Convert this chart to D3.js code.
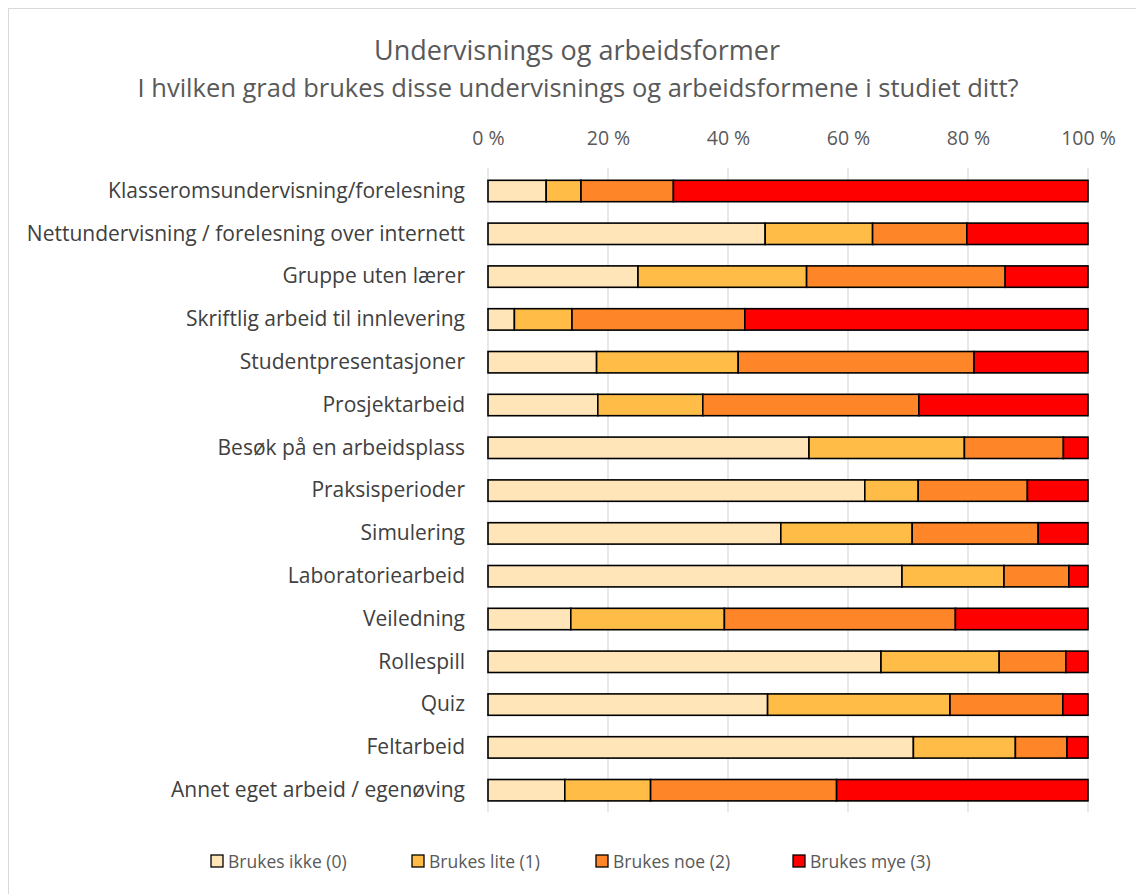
<!DOCTYPE html>
<html>
<head>
<meta charset="utf-8">
<script src="https://cdnjs.cloudflare.com/ajax/libs/d3/7.8.5/d3.min.js"></script>
<style>
  body { margin: 0; background: #fff; }
  text { font-family: "Open Sans", "Liberation Sans", sans-serif; }
</style>
</head>
<body>
<script>
var categories = ["Klasseromsundervisning/forelesning", "Nettundervisning / forelesning over internett",
  "Gruppe uten lærer", "Skriftlig arbeid til innlevering", "Studentpresentasjoner", "Prosjektarbeid",
  "Besøk på en arbeidsplass", "Praksisperioder ", "Simulering", "Laboratoriearbeid", "Veiledning",
  "Rollespill", "Quiz", "Feltarbeid", "Annet eget arbeid / egenøving"];

var seriesNames = ["Brukes ikke (0)", "Brukes lite (1)", "Brukes noe (2)", "Brukes mye (3)"];

// percent per category, one array per series
var brukesIkke = [9.7, 46.2, 25.0, 4.4, 18.1, 18.3, 53.5, 62.8, 48.8, 69.0, 13.8, 65.5, 46.6, 70.9, 12.8];
var brukesLite = [5.8, 17.9, 28.1, 9.6, 23.6, 17.5, 25.9, 8.9, 21.9, 17.0, 25.6, 19.7, 30.4, 17.0, 14.3];
var brukesNoe  = [15.4, 15.7, 33.1, 28.8, 39.3, 36.0, 16.5, 18.2, 21.0, 10.8, 38.5, 11.1, 18.8, 8.6, 31.0];
var brukesMye  = [69.1, 20.2, 13.8, 57.2, 19.0, 28.2, 4.1, 10.1, 8.3, 3.2, 22.1, 3.7, 4.2, 3.5, 41.9];

var tickValues = [0, 0.2, 0.4, 0.6, 0.8, 1.0];
var colors = ["#FFE5B8", "#FFBC47", "#FF8628", "#FF0000"];

var width = 1136, height = 894;
var svg = d3.select("body").append("svg").attr("width", width).attr("height", height);

// chart frame
svg.append("rect").attr("x", 8.5).attr("y", 8.5).attr("width", 1140).attr("height", 900)
  .attr("fill", "none").attr("stroke", "#d9d9d9");

svg.append("text").attr("x", 577).attr("y", 60).attr("text-anchor", "middle")
  .attr("font-size", 27).attr("fill", "#595959").text("Undervisnings og arbeidsformer");
svg.append("text").attr("x", 578).attr("y", 97).attr("text-anchor", "middle")
  .attr("font-size", 25.5).attr("fill", "#595959")
  .text("I hvilken grad brukes disse undervisnings og arbeidsformene i studiet ditt?");

// table for stacking
var table = categories.map(function(c, i) {
  var total = brukesIkke[i] + brukesLite[i] + brukesNoe[i] + brukesMye[i];
  return {cat: c, s0: brukesIkke[i] / total, s1: brukesLite[i] / total, s2: brukesNoe[i] / total, s3: brukesMye[i] / total};
});
var stack = d3.stack().keys(["s0", "s1", "s2", "s3"]);
var layers = stack(table);

var x = d3.scaleLinear().domain([0, 1]).range([488, 1088]);
var y = d3.scaleBand().domain(categories).range([169.6, 811.6]).paddingInner(0.5).paddingOuter(0.25);

// gridlines
svg.append("g").selectAll("line").data(tickValues).enter().append("line")
  .attr("x1", function(d) { return x(d); }).attr("x2", function(d) { return x(d); })
  .attr("y1", 168).attr("y2", 812)
  .attr("stroke", "#d9d9d9").attr("stroke-width", 1.2);

// top axis labels
var xAxis = d3.axisTop(x).tickValues(tickValues).tickSize(0)
  .tickFormat(function(d) { return Math.round(d * 100) + " %"; });
var gx = svg.append("g").attr("transform", "translate(0,148)").call(xAxis);
gx.select(".domain").remove();
gx.selectAll("text").attr("font-size", 19.5).attr("fill", "#595959")
  .attr("font-family", "Open Sans, Liberation Sans, sans-serif").attr("dy", 0);

// category labels
var yAxis = d3.axisLeft(y).tickSize(0).tickPadding(0);
var gy = svg.append("g").attr("transform", "translate(465,0)").call(yAxis);
gy.select(".domain").remove();
gy.selectAll("text").attr("font-size", 21).attr("fill", "#404040")
  .attr("font-family", "Open Sans, Liberation Sans, sans-serif");

// bars
svg.append("g").selectAll("g").data(layers).enter().append("g")
  .attr("fill", function(d, i) { return colors[i]; })
  .selectAll("rect").data(function(d) { return d; }).enter().append("rect")
  .attr("x", function(d) { return x(d[0]); })
  .attr("y", function(d) { return y(d.data.cat); })
  .attr("width", function(d) { return x(d[1]) - x(d[0]); })
  .attr("height", y.bandwidth())
  .attr("stroke", "#000").attr("stroke-width", 1.6);

// legend
var legendX = [211, 412, 596, 793];
var legend = svg.append("g").selectAll("g").data(seriesNames).enter().append("g")
  .attr("transform", function(d, i) { return "translate(" + legendX[i] + ",861)"; });
legend.append("rect").attr("x", 0).attr("y", -6).attr("width", 12).attr("height", 12)
  .attr("fill", function(d, i) { return colors[i]; }).attr("stroke", "#000").attr("stroke-width", 1.3);
legend.append("text").attr("x", 17).attr("y", 6.5).attr("font-size", 17.5).attr("fill", "#595959")
  .text(function(d) { return d; });
</script>
</body>
</html>
